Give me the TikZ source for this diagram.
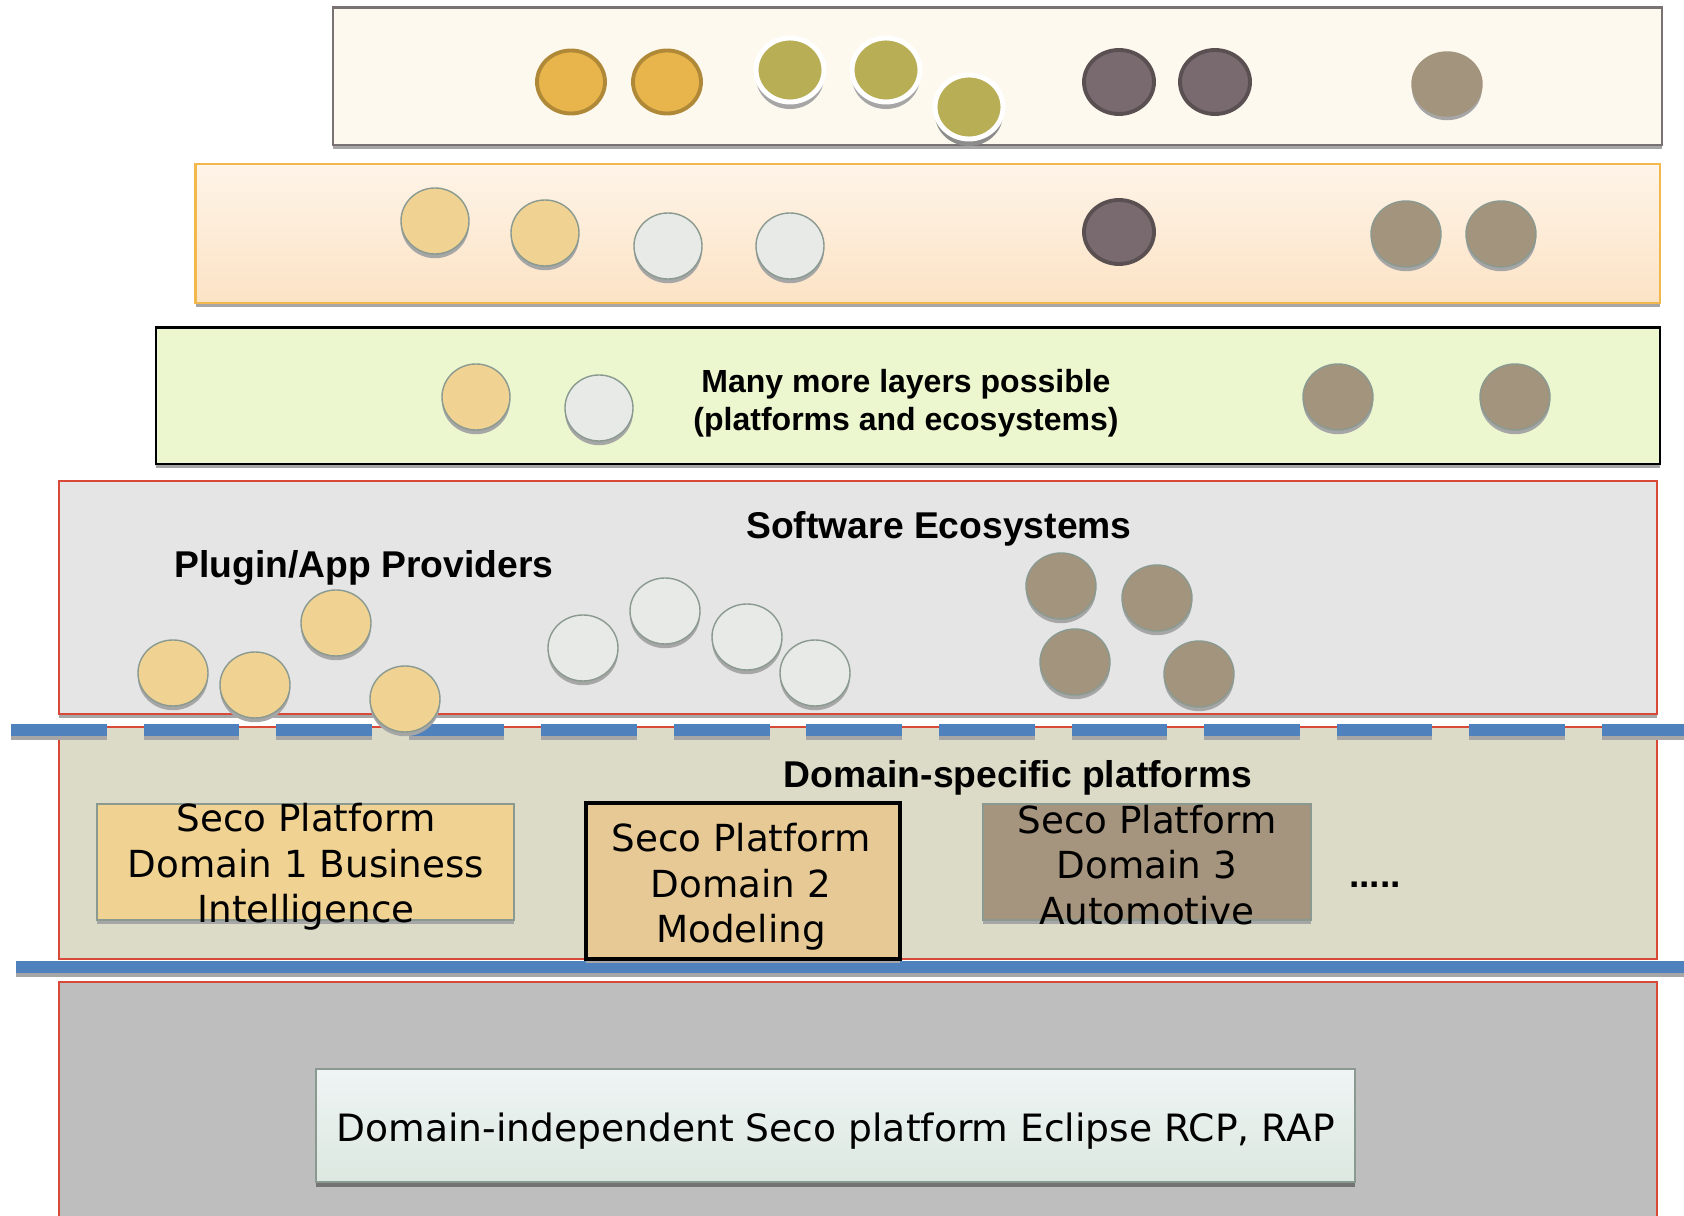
\documentclass[tikz,border=0pt]{standalone}
\usepackage{fontspec}
\usepackage{tikz}
\usetikzlibrary{shadows}

\newfontfamily\headfont{Liberation Sans}
\newfontfamily\boxfont{DejaVu Sans}

\definecolor{sandfill}{HTML}{FDF9EF}
\definecolor{sandrim}{HTML}{7A7172}
\definecolor{peachtop}{HTML}{FEF4E8}
\definecolor{peachbot}{HTML}{FCE3C5}
\definecolor{peachrim}{HTML}{F2B84B}
\definecolor{limefill}{HTML}{ECF7CF}
\definecolor{ecofill}{HTML}{E5E5E5}
\definecolor{domfill}{HTML}{DBDBC7}
\definecolor{basefill}{HTML}{BEBEBE}
\definecolor{redrim}{HTML}{D9493A}
\definecolor{bluebar}{HTML}{4F81BD}
\definecolor{ballrim}{HTML}{8A9A90}
\definecolor{orangeball}{HTML}{E8B44C}
\definecolor{orangerim}{HTML}{B08938}
\definecolor{oliveball}{HTML}{B8AE55}
\definecolor{darkball}{HTML}{786A6E}
\definecolor{darkrim}{HTML}{5A5052}
\definecolor{mudball}{HTML}{A3947E}
\definecolor{tanball}{HTML}{F0D393}
\definecolor{paleball}{HTML}{E8EAE8}
\definecolor{domAfill}{HTML}{F0D293}
\definecolor{domBfill}{HTML}{E6C994}
\definecolor{domCfill}{HTML}{A6957E}
\definecolor{coretop}{HTML}{EFF4F4}
\definecolor{corebot}{HTML}{DCE8E0}

\begin{document}
\begin{tikzpicture}[x=0.01cm, y=-0.01cm,
		lshadow/.style={drop shadow={shadow xshift=0pt, shadow yshift=-1.2pt, fill=black!35, opacity=1}},
		ball/.style={line width=0.4pt, draw=ballrim, lshadow},
		headtxt/.style={font=\headfont\bfseries\fontsize{10.6}{12.7}\selectfont, inner sep=0pt},
		boxtxt/.style={font=\boxfont\fontsize{10.6}{12.9}\selectfont, align=center, inner sep=0pt},
		platbox/.style={draw=ballrim, line width=0.6pt, inner sep=0pt, lshadow}]
		\useasboundingbox (0,0) rectangle (1684,1216);
		\begin{scope}
			\clip (0,0) rectangle (1684,1216);

			% layers
			\filldraw[lshadow, fill=sandfill, draw=sandrim, line width=0.6pt] (333,7.5) rectangle (1662,145);
			\filldraw[lshadow, top color=peachtop, bottom color=peachbot, draw=peachrim, line width=0.6pt] (195.5,164) rectangle (1660,303);
			\filldraw[lshadow, fill=limefill, draw=black, line width=0.7pt] (156,327.5) rectangle (1660,464);
			\filldraw[lshadow, fill=ecofill, draw=redrim, line width=0.5pt] (59,481) rectangle (1657,714);
			\filldraw[fill=domfill, draw=redrim, line width=0.5pt] (59,727) rectangle (1657,959);
			\filldraw[fill=basefill, draw=redrim, line width=0.5pt] (59,982) rectangle (1657,1240);

			\draw[line width=3.3pt, black!35, dash pattern=on 27.2pt off 10.5pt] (11,734) -- (1700,734);
			\draw[line width=3.3pt, bluebar, dash pattern=on 27.2pt off 10.5pt] (11,730) -- (1700,730);
			\draw[line width=3.3pt, black!35] (16,971) -- (1700,971);
			\draw[line width=3.3pt, bluebar] (16,967) -- (1700,967);

			% top layer
			\filldraw[fill=orangeball, draw=orangerim, line width=1.1pt] (571,82) ellipse (34 and 31.5);
			\filldraw[fill=orangeball, draw=orangerim, line width=1.1pt] (667,82) ellipse (34 and 31.5);
			\filldraw[fill=oliveball, draw=white, line width=1.4pt, drop shadow={shadow xshift=0pt, shadow yshift=-2pt, fill=black!35, opacity=1}] (790,70) ellipse (34 and 32);
			\filldraw[fill=oliveball, draw=white, line width=1.4pt, drop shadow={shadow xshift=0pt, shadow yshift=-2pt, fill=black!35, opacity=1}] (886,70) ellipse (34 and 32);
			\filldraw[fill=oliveball, draw=white, line width=1.4pt, drop shadow={shadow xshift=0pt, shadow yshift=-2pt, fill=black!45, opacity=1}] (969,107) ellipse (34 and 32);
			\filldraw[fill=darkball, draw=darkrim, line width=1.1pt] (1119,82) ellipse (35 and 32);
			\filldraw[fill=darkball, draw=darkrim, line width=1.1pt] (1215,82) ellipse (35 and 32);
			\filldraw[ball, fill=mudball, draw=mudball] (1447,84) ellipse (35 and 32);

			% second layer
			\filldraw[ball, fill=tanball] (435,221) ellipse (34 and 33);
			\filldraw[ball, fill=tanball] (545,233) ellipse (34 and 33);
			\filldraw[ball, fill=paleball] (668,246) ellipse (34 and 33);
			\filldraw[ball, fill=paleball] (790,246) ellipse (34 and 33);
			\filldraw[fill=darkball, draw=darkrim, line width=1.1pt] (1119,232) ellipse (35 and 32);
			\filldraw[ball, fill=mudball] (1406,234) ellipse (35 and 33);
			\filldraw[ball, fill=mudball] (1501,234) ellipse (35 and 33);

			% third layer
			\filldraw[ball, fill=tanball] (476,397) ellipse (34 and 33);
			\filldraw[ball, fill=paleball] (599,408) ellipse (34 and 33);
			\filldraw[ball, fill=mudball] (1338,397) ellipse (35 and 33);
			\filldraw[ball, fill=mudball] (1515,397) ellipse (35 and 33);
			\node[headtxt, align=center, font=\headfont\bfseries\fontsize{9.1}{10.7}\selectfont] (more) at (906,403) {Many more layers possible\\(platforms and ecosystems)};

			% software ecosystems
			\node[headtxt] (eco) at (939,529) {Software Ecosystems};
			\node[headtxt] (plugin) at (364,568) {Plugin/App Providers};
			\filldraw[ball, fill=tanball] (173,673) ellipse (35 and 33);
			\filldraw[ball, fill=tanball] (255,685) ellipse (35 and 33);
			\filldraw[ball, fill=tanball] (336,623) ellipse (35 and 33);
			\filldraw[ball, fill=tanball] (405,699) ellipse (35 and 33);
			\filldraw[ball, fill=paleball] (583,648) ellipse (35 and 33);
			\filldraw[ball, fill=paleball] (665,611) ellipse (35 and 33);
			\filldraw[ball, fill=paleball] (747,637) ellipse (35 and 33);
			\filldraw[ball, fill=paleball] (815,673) ellipse (35 and 33);
			\filldraw[ball, fill=mudball] (1061,586) ellipse (35 and 33);
			\filldraw[ball, fill=mudball] (1157,598) ellipse (35 and 33);
			\filldraw[ball, fill=mudball] (1075,662) ellipse (35 and 33);
			\filldraw[ball, fill=mudball] (1199,674) ellipse (35 and 33);

			% domain-specific platforms
			\node[headtxt] (dsp) at (1018,778) {Domain-specific platforms};
			\node[platbox, fill=domAfill, minimum width=4.17cm, minimum height=1.16cm] (domA) at (305.5,862) {};
			\node[boxtxt] (domAtxt) at (306,867) {Seco Platform\\Domain 1 Business\\Intelligence};
			\node[platbox, fill=domBfill, draw=black, line width=1pt, minimum width=3.14cm, minimum height=1.56cm] (domB) at (743,881) {};
			\node[boxtxt] (domBtxt) at (741,887) {Seco Platform\\Domain 2\\Modeling};
			\node[platbox, fill=domCfill, minimum width=3.28cm, minimum height=1.16cm] (domC) at (1147,862) {};
			\node[boxtxt] (domCtxt) at (1147,865) {Seco Platform\\Domain 3\\Automotive};
			\node[headtxt] (dots) at (1375,885) {.....};

			% domain-independent
			\node[platbox, top color=coretop, bottom color=corebot, minimum width=10.39cm, minimum height=1.13cm,
				drop shadow={shadow xshift=0pt, shadow yshift=-1.5pt, fill=black!55, opacity=1}] (core) at (835.5,1125.5) {};
			\node[boxtxt, font=\boxfont\fontsize{10.7}{12.9}\selectfont] (coretxt) at (835.5,1131) {Domain-independent Seco platform Eclipse RCP, RAP};
		\end{scope}
\end{tikzpicture}
\end{document}
